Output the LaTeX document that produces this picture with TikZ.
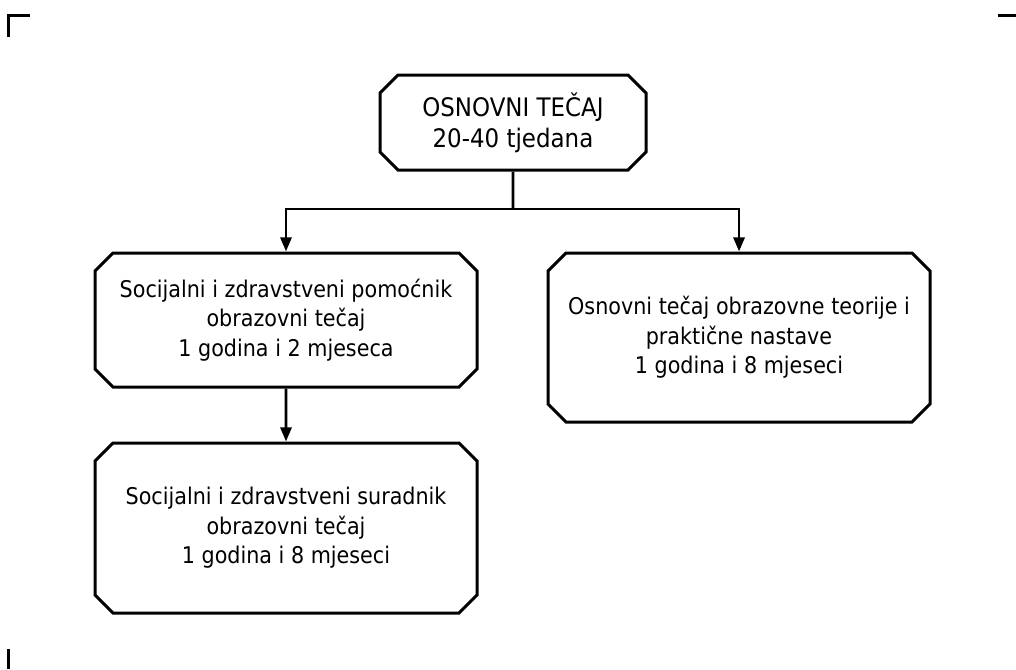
\documentclass[tikz,border=0pt]{standalone}
\usepackage{fontspec}
\setmainfont{DejaVu Sans}[FakeStretch=0.9]
\usetikzlibrary{shapes.misc, arrows.meta}

\begin{document}
\begin{tikzpicture}[x=1pt, y=-1pt,
    box/.style = {draw, line width=3pt, chamfered rectangle, chamfered rectangle xsep=9pt, chamfered rectangle ysep=9pt,
                  align=center, inner sep=0pt, font=\fontsize{23}{29.5}\selectfont},
    arr/.style = {line width=2.8pt, -{Triangle[length=14pt, width=11pt]}},
    crop/.style = {line width=3pt}]
    \useasboundingbox (0,0) rectangle (1016,669);
    % corner marks
    \draw[crop] (8,37) -- (8,16) -- (30,16);
    \draw[crop] (998,16) -- (1016,16);
    \draw[crop] (8,649) -- (8,669);
    % boxes
    \node[box, minimum width=266pt, minimum height=95pt, font=\fontsize{25.5}{31}\selectfont] (tecaj) at (513,122.5) {OSNOVNI TEČAJ\\20-40 tjedana};
    \node[box, minimum width=382pt, minimum height=134pt] (pomocnik) at (286,320) {Socijalni i zdravstveni pomoćnik\\obrazovni tečaj\\1 godina i 2 mjeseca};
    \node[box, minimum width=382pt, minimum height=169pt] (teorija) at (739,337.5) {Osnovni tečaj obrazovne teorije i\\praktične nastave\\1 godina i 8 mjeseci};
    \node[box, minimum width=382pt, minimum height=170pt] (suradnik) at (286,528) {Socijalni i zdravstveni suradnik\\obrazovni tečaj\\1 godina i 8 mjeseci};
    % connectors
    \coordinate (split) at (513,209);
    \draw[line width=2.8pt] (tecaj) -- (split);
    \draw[arr] (split) -| (pomocnik);
    \draw[arr] (split) -| (teorija);
    \draw[arr] (pomocnik) -- (suradnik);
\end{tikzpicture}
\end{document}
